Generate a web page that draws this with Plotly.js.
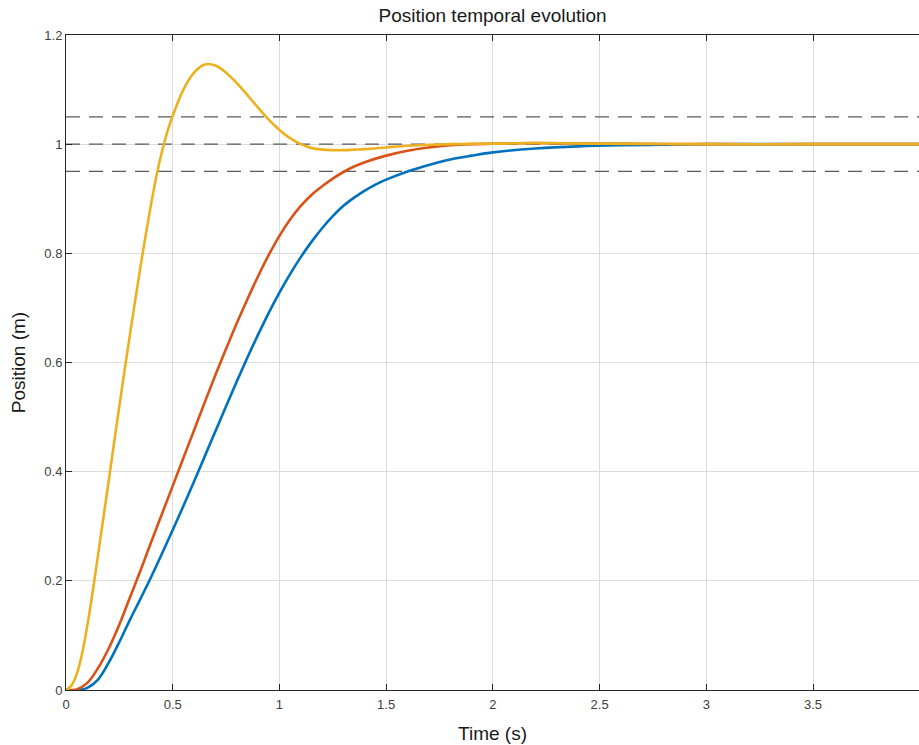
<!DOCTYPE html>
<html>
<head>
<meta charset="utf-8">
<script src="https://cdn.plot.ly/plotly-3.0.1.min.js"></script>
<style>html,body{margin:0;padding:0;background:#fff;}#chart{width:919px;height:745px;}</style>
</head>
<body>
<div id="chart"></div>
<script>
// Reference (tolerance band) levels
const refLevels = [0.95, 1.0, 1.05];
const refSpan = [0, 4];

// Blue series
const tBlue = [0,0.05,0.1,0.15,0.2,0.25,0.3,0.35,0.4,0.45,0.5,0.55,0.6,0.65,0.7,0.75,0.8,0.85,0.9,0.95,1.0,1.05,1.1,1.15,1.2,1.25,1.3,1.35,1.4,1.45,1.5,1.6,1.7,1.8,1.9,2.0,2.2,2.4,2.6,2.8,3.0,3.5,4.0];
const yBlue = [0,0,0.004,0.019,0.05,0.088,0.129,0.168,0.208,0.25,0.293,0.337,0.382,0.428,0.474,0.52,0.565,0.609,0.651,0.691,0.728,0.762,0.793,0.821,0.846,0.868,0.887,0.902,0.915,0.926,0.935,0.95,0.962,0.972,0.979,0.985,0.992,0.996,0.998,0.999,1.0,1.0,1.0];

// Red series
const tRed = [0,0.05,0.1,0.15,0.2,0.25,0.3,0.35,0.4,0.45,0.5,0.55,0.6,0.65,0.7,0.75,0.8,0.85,0.9,0.95,1.0,1.05,1.1,1.15,1.2,1.25,1.3,1.35,1.4,1.5,1.6,1.7,1.8,1.9,2.0,2.2,2.5,3.0,3.5,4.0];
const yRed = [0,0.001,0.013,0.04,0.076,0.12,0.17,0.22,0.272,0.323,0.374,0.425,0.476,0.527,0.577,0.625,0.672,0.716,0.758,0.797,0.832,0.862,0.887,0.907,0.923,0.937,0.949,0.959,0.967,0.979,0.988,0.994,0.998,1.0,1.001,1.002,1.001,1.0,1.0,1.0];

// Yellow series
const tYellow = [0,0.025,0.05,0.075,0.1,0.125,0.15,0.175,0.2,0.225,0.25,0.275,0.3,0.325,0.35,0.375,0.4,0.425,0.45,0.475,0.5,0.55,0.6,0.65,0.7,0.75,0.8,0.85,0.9,0.95,1.0,1.05,1.1,1.15,1.2,1.25,1.3,1.35,1.4,1.5,1.6,1.7,1.8,2.0,2.2,2.5,3.0,3.5,4.0];
const yYellow = [0,0.008,0.029,0.066,0.118,0.18,0.247,0.315,0.383,0.452,0.52,0.587,0.652,0.716,0.778,0.837,0.893,0.944,0.987,1.023,1.052,1.1,1.131,1.146,1.144,1.131,1.112,1.09,1.067,1.045,1.026,1.011,1.0,0.993,0.99,0.989,0.989,0.99,0.991,0.994,0.997,0.999,1.0,1.001,1.002,1.001,1.0,1.0,1.0];

// Axis ticks
const xTicks = [0,0.5,1,1.5,2,2.5,3,3.5,4];
const yTicks = [0,0.2,0.4,0.6,0.8,1,1.2];

const seriesColors = ['#0072BD','#D95319','#EDB120'];

const traces = [];
refLevels.forEach(function(lv){
  traces.push({
    x: refSpan, y: [lv, lv], mode: 'lines', type: 'scatter',
    line: {color: '#5a5a5a', width: 1.3, dash: '14px,9px'},
    hoverinfo: 'skip', showlegend: false
  });
});
[[tBlue,yBlue],[tRed,yRed],[tYellow,yYellow]].forEach(function(s,i){
  traces.push({
    x: s[0], y: s[1], mode: 'lines', type: 'scatter',
    line: {color: seriesColors[i], width: 2.6, shape: 'spline', smoothing: 1},
    hoverinfo: 'skip', showlegend: false
  });
});

const fontFam = '"Liberation Sans", Arial, sans-serif';
const layout = {
  width: 919, height: 745,
  margin: {l: 66, r: 0, t: 35, b: 55, pad: 0},
  paper_bgcolor: '#ffffff', plot_bgcolor: '#ffffff',
  font: {family: fontFam, color: '#262626', size: 13},
  title: {text: 'Position temporal evolution', font: {family: fontFam, size: 19, color: '#1a1a1a'},
          x: 0.536, xref: 'container', xanchor: 'center', y: 0.98, yref: 'container', yanchor: 'middle'},
  showlegend: false,
  xaxis: {
    range: [0, 3.9966], tickvals: xTicks, ticktext: xTicks.map(String),
    ticks: 'inside', ticklen: 6, tickwidth: 1, tickcolor: '#262626',
    showline: true, linecolor: '#262626', linewidth: 1, mirror: 'ticks',
    showgrid: true, gridcolor: '#dcdcdc', gridwidth: 1, zeroline: false,
    ticklabelstandoff: 2,
    tickfont: {size: 13, color: '#404040', family: fontFam},
    title: {text: 'Time (s)', font: {size: 19, color: '#1a1a1a', family: fontFam}, standoff: 16}
  },
  yaxis: {
    range: [0, 1.2], tickvals: yTicks, ticktext: yTicks.map(String),
    ticks: 'inside', ticklen: 6, tickwidth: 1, tickcolor: '#262626',
    showline: true, linecolor: '#262626', linewidth: 1,
    showgrid: true, gridcolor: '#dcdcdc', gridwidth: 1, zeroline: false,
    tickfont: {size: 13, color: '#404040', family: fontFam},
    title: {text: 'Position (m)', font: {size: 19, color: '#1a1a1a', family: fontFam}, standoff: 13}
  }
};

Plotly.newPlot('chart', traces, layout, {staticPlot: true, displayModeBar: false});
</script>
</body>
</html>
